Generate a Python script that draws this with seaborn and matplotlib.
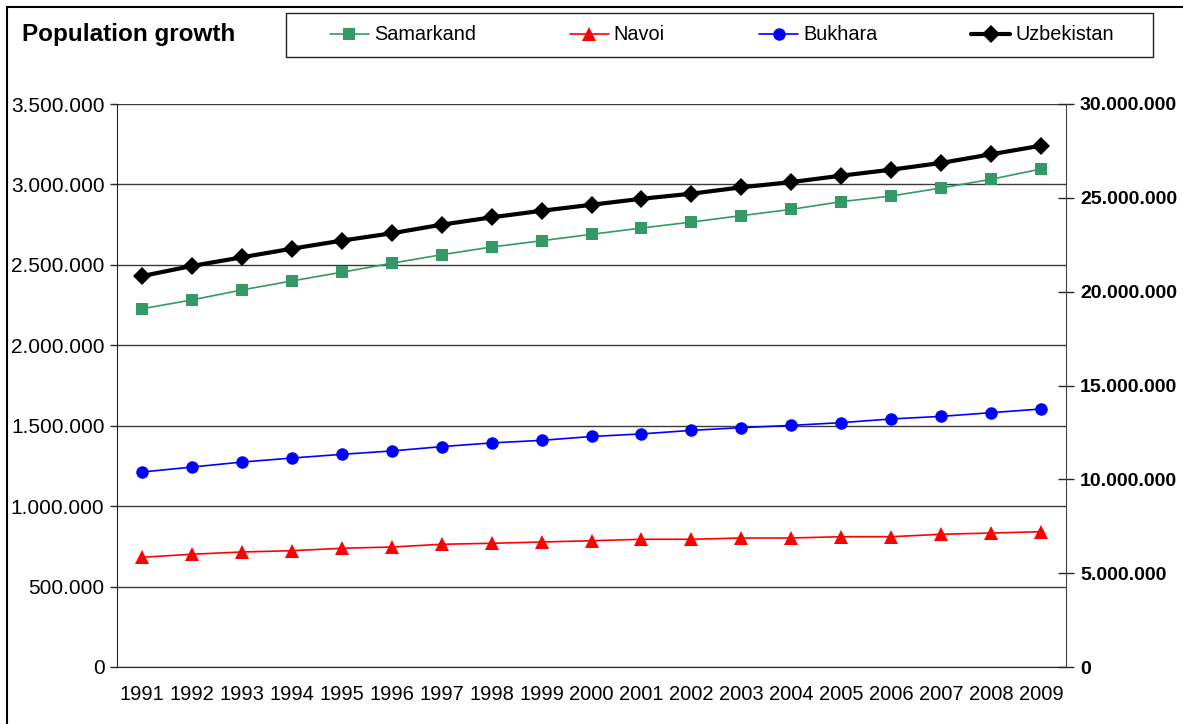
import pandas as pd
import numpy as np
import matplotlib
matplotlib.use("Agg")
import matplotlib.pyplot as plt
import seaborn as sns
from matplotlib.lines import Line2D
from matplotlib.patches import Rectangle
from matplotlib.ticker import FuncFormatter, MultipleLocator

# data
years = [1991, 1992, 1993, 1994, 1995, 1996, 1997, 1998, 1999, 2000,
         2001, 2002, 2003, 2004, 2005, 2006, 2007, 2008, 2009]
samarkand = [2227000, 2282000, 2344000, 2400000, 2454000, 2510000, 2563000, 2611000, 2650000, 2690000,
             2729000, 2766000, 2806000, 2845000, 2893000, 2928000, 2978000, 3032000, 3096000]
navoi = [682000, 701000, 715000, 723000, 738000, 746000, 763000, 769000, 777000, 785000,
         794000, 794000, 802000, 802000, 810000, 810000, 825000, 833000, 841000]
bukhara = [1212000, 1243000, 1274000, 1299000, 1322000, 1343000, 1370000, 1393000, 1409000, 1433000,
           1449000, 1471000, 1488000, 1502000, 1519000, 1542000, 1558000, 1581000, 1604000]
uzbekistan = [20830000, 21370000, 21830000, 22290000, 22720000, 23110000, 23570000, 23960000, 24310000, 24630000,
              24950000, 25220000, 25560000, 25840000, 26180000, 26500000, 26860000, 27320000, 27780000]

series_names = ["Samarkand", "Navoi", "Bukhara", "Uzbekistan"]
colors = {"Samarkand": "#339966", "Navoi": "#FF0000", "Bukhara": "#0000FF", "Uzbekistan": "#000000"}
# line width, marker, marker size per series
styles = {"Samarkand": (1.2, "s", 8.5), "Navoi": (1.2, "^", 10),
          "Bukhara": (1.2, "o", 9), "Uzbekistan": (3, "D", 9)}


def dots(v, pos=None):
    return f"{int(round(v)):,}".replace(",", ".")


def main():
    df = pd.DataFrame({"year": years, "Samarkand": samarkand, "Navoi": navoi,
                       "Bukhara": bukhara, "Uzbekistan": uzbekistan})
    df["pos"] = np.arange(len(df))

    sns.set_style("white")
    plt.rcParams["font.family"] = ["Liberation Sans", "DejaVu Sans"]
    plt.rcParams["text.color"] = "black"

    W, H = 1183, 724
    fig = plt.figure(figsize=(W / 100, H / 100), dpi=100)
    ax = fig.add_axes([117 / W, 1 - 667 / H, (1066 - 117) / W, (667 - 104) / H])
    ax2 = ax.twinx()

    for name in series_names:
        lw, mk, ms = styles[name]
        target = ax2 if name == "Uzbekistan" else ax
        sns.lineplot(data=df, x="pos", y=name, ax=target, color=colors[name], lw=lw,
                     marker=mk, markersize=ms, markeredgewidth=0)

    # left axis
    ax.set_xlim(-0.5, len(years) - 0.5)
    ax.set_ylim(0, 3500000)
    ax.yaxis.set_major_locator(MultipleLocator(500000))
    ax.yaxis.set_major_formatter(FuncFormatter(dots))
    ax.set_xticks(df["pos"])
    ax.set_xticklabels([str(y) for y in years])
    ax.set_xticks(np.arange(-0.5, len(years)), minor=True)
    ax.tick_params(axis="x", which="major", length=0, labelsize=14.5, pad=13, labelcolor="black")
    ax.tick_params(axis="x", which="minor", length=5, direction="out", width=1, color="#222222")
    ax.tick_params(axis="y", length=5, direction="out", width=1, labelsize=15, pad=4, left=True,
                   labelcolor="black")
    ax.set_xlabel("")
    ax.set_ylabel("")
    ax.yaxis.grid(True, color="#3a3a3a", lw=1)
    ax.set_axisbelow(True)
    for s in ["top", "right"]:
        ax.spines[s].set_visible(False)
    ax.spines["left"].set_color("#222222")
    ax.spines["bottom"].set_color("#222222")

    # right axis
    ax2.set_ylim(0, 30000000)
    ax2.yaxis.set_major_locator(MultipleLocator(5000000))
    ax2.yaxis.set_major_formatter(FuncFormatter(dots))
    ax2.tick_params(axis="y", length=12, direction="inout", width=1, labelsize=14, pad=4, right=True,
                    labelcolor="black")
    for lab in ax2.get_yticklabels():
        lab.set_fontweight("bold")
    ax2.set_ylabel("")
    for s in ["top", "left", "bottom"]:
        ax2.spines[s].set_visible(False)
    ax2.spines["right"].set_color("#444444")

    # title
    fig.text(22 / W, 1 - 34 / H, "Population growth", fontsize=17.5, fontweight="bold",
             ha="left", va="center")

    # legend: entries without frame, frame drawn as a box around them
    handles = []
    for name in series_names:
        lw, mk, ms = styles[name]
        handles.append(Line2D([], [], color=colors[name], lw=lw, marker=mk, markersize=ms,
                              markeredgewidth=0))
    fig.legend(handles, series_names, loc="center left", ncol=4,
               bbox_to_anchor=(330 / W, 1 - 35 / H), fontsize=14.3, frameon=False,
               handlelength=1.95, handletextpad=0.25, columnspacing=4.75,
               borderpad=0, borderaxespad=0)
    fig.add_artist(Rectangle((286 / W, 1 - 57 / H), (1153 - 286) / W, 44 / H,
                             transform=fig.transFigure, fill=False, lw=1, ec="#222222"))

    # outer chart frame (cut off on the right and bottom)
    fig.add_artist(Rectangle((7 / W, -0.1), 1.2, 1 - 7 / H + 0.1, transform=fig.transFigure,
                             fill=False, lw=1.5, ec="black"))

    fig.savefig("out.png", dpi=100)


if __name__ == "__main__":
    main()
